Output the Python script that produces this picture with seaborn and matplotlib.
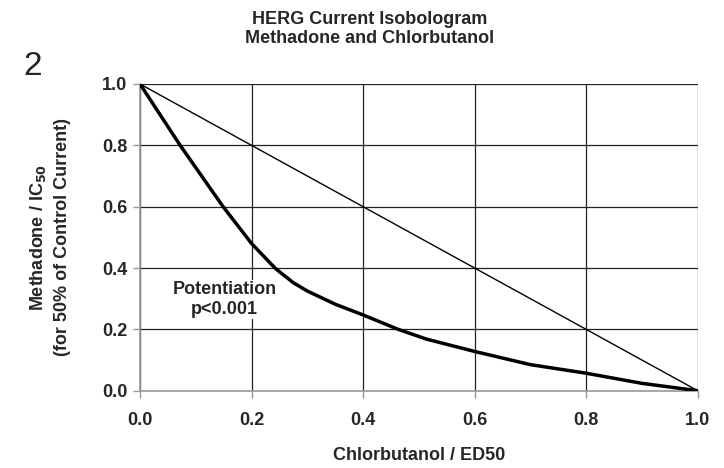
import numpy as np
import pandas as pd
import matplotlib
matplotlib.use("Agg")
import matplotlib.pyplot as plt
import seaborn as sns

# ── data ──
chlor = [0.0, 0.072, 0.149, 0.2, 0.242, 0.25, 0.275, 0.3, 0.35, 0.4, 0.463, 0.514,
         0.6, 0.7, 0.8, 0.9, 1.0]
methadone = [1.0, 0.8, 0.6, 0.48, 0.40, 0.388, 0.352, 0.325, 0.282, 0.247, 0.20, 0.168,
             0.128, 0.085, 0.057, 0.024, 0.0]
additive_x = [0.0, 1.0]
additive_y = [1.0, 0.0]
ticks = [0.0, 0.2, 0.4, 0.6, 0.8, 1.0]

sns.set_theme(style="white")
plt.rcParams["font.family"] = ["Liberation Sans", "DejaVu Sans"]
plt.rcParams["font.weight"] = "bold"
plt.rcParams["mathtext.default"] = "bf"

W, H = 724, 468
fig = plt.figure(figsize=(W / 100, H / 100), dpi=100)
ax = fig.add_axes([140 / W, 1 - 390.7 / H, 557.7 / W, 306.7 / H])

df_curve = pd.DataFrame({"x": chlor, "y": methadone})
df_add = pd.DataFrame({"x": additive_x, "y": additive_y})
sns.lineplot(data=df_add, x="x", y="y", ax=ax, color="black", linewidth=1.0,
             sort=False, zorder=3)
sns.lineplot(data=df_curve, x="x", y="y", ax=ax, color="black", linewidth=2.5,
             sort=False, zorder=4)

ax.set_xlim(0, 1)
ax.set_ylim(0, 1)
ax.set_xticks(ticks)
ax.set_yticks(ticks)
ax.set_xticklabels([f"{t:.1f}" for t in ticks], fontsize=13, fontweight="bold")
ax.set_yticklabels([f"{t:.1f}" for t in ticks], fontsize=13, fontweight="bold")
ax.grid(True, color="#222222", linewidth=0.9)
ax.set_axisbelow(True)
for side in ["top", "right"]:
    ax.spines[side].set_visible(False)
for side in ["left", "bottom"]:
    ax.spines[side].set_color("#999999")
    ax.spines[side].set_linewidth(1.2)
ax.tick_params(axis="both", which="both", direction="out", length=5, width=1,
               color="#999999", pad=4, bottom=True, left=True)
ax.tick_params(axis="x", pad=10)

ax.set_xlabel("Chlorbutanol / ED50", fontsize=13, fontweight="bold", va="center")
ax.xaxis.set_label_coords(0.5, -0.21)
ax.set_ylabel("Methadone / IC$_{50}$\n(for 50% of Control Current)",
              fontsize=13, fontweight="bold", va="center", linespacing=1.5)
ax.yaxis.set_label_coords(-0.162, 0.5)

ax.text(0.152, 0.297, "Potentiation\np<0.001", ha="center", va="center",
        fontsize=13, fontweight="bold", linespacing=1.2, zorder=5,
        bbox=dict(facecolor="white", edgecolor="none", pad=1))

fig.text(370 / W, 1 - 29 / H, "HERG Current Isobologram\nMethadone and Chlorbutanol",
         ha="center", va="center", fontsize=13, fontweight="bold", linespacing=1.2)
fig.text(33 / W, 1 - 67 / H, "2", ha="center", va="center", fontsize=24,
         fontweight="normal")

fig.savefig("out.png", dpi=100)
